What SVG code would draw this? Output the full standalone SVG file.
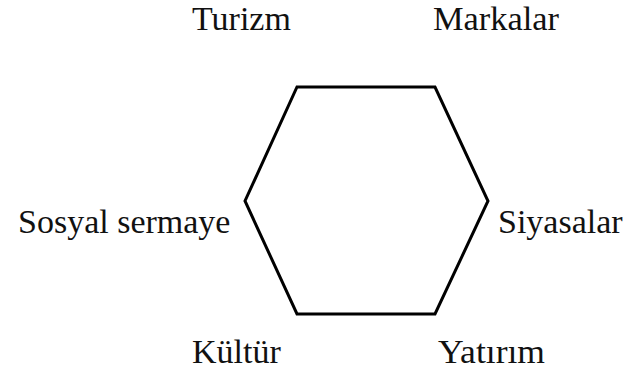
<svg xmlns="http://www.w3.org/2000/svg" width="637" height="374" viewBox="0 0 637 374">
<style>
.lbl{font-family:"Liberation Serif","Times New Roman",serif;font-size:34px;fill:#111}
.hex{fill:none;stroke:#000;stroke-width:3;stroke-linejoin:miter}
</style>
<rect width="637" height="374" fill="#fff"/>
<g id="connectors"></g>
<g id="hexagon"><polygon class="hex" points="297,87 435,87 488,201 435,314 297,314 245,201"/></g>
<g id="turizm"><text class="lbl" x="192" y="30">Turizm</text></g>
<g id="markalar"><text class="lbl" x="433" y="30" textLength="126" lengthAdjust="spacingAndGlyphs">Markalar</text></g>
<g id="sosyal"><text class="lbl" x="18" y="233">Sosyal sermaye</text></g>
<g id="siyasalar"><text class="lbl" x="498" y="233">Siyasalar</text></g>
<g id="kultur"><text class="lbl" x="192" y="363">Kültür</text></g>
<g id="yatirim"><text class="lbl" x="438" y="363" textLength="107" lengthAdjust="spacingAndGlyphs">Yatırım</text></g>
</svg>
